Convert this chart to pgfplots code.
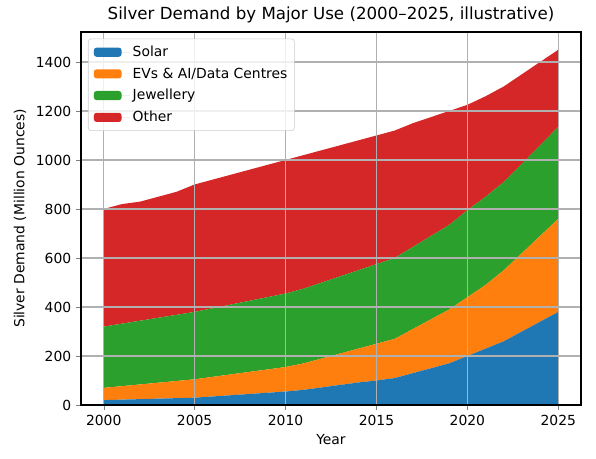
\documentclass[border=0pt]{standalone}
\usepackage{pgfplots}
\pgfplotsset{compat=1.18}
\usepackage{pgfplotstable}
\usepackage{fontspec}
\setmainfont{DejaVu Sans}
\definecolor{tabblue}{HTML}{1F77B4}
\definecolor{taborange}{HTML}{FF7F0E}
\definecolor{tabgreen}{HTML}{2CA02C}
\definecolor{tabred}{HTML}{D62728}
\pgfplotstableread{
year solar ev jew other
2000 20 50 250 480
2001 22 55 255 488
2002 24 60 260 486
2003 26 65 265 494
2004 28 70 270 502
2005 30 75 275 520
2006 35 80 280 525
2007 40 85 285 530
2008 45 90 290 535
2009 50 95 295 540
2010 55 100 300 545
2011 62 108 305 545
2012 72 118 310 540
2013 82 128 315 535
2014 92 138 320 530
2015 100 150 325 525
2016 110 160 330 520
2017 130 180 335 505
2018 150 200 340 485
2019 170 220 345 465
2020 200 240 355 430
2021 230 260 360 410
2022 260 290 360 390
2023 300 320 365 365
2024 340 350 370 340
2025 380 380 375 315
}\datatable
\begin{document}
\begin{tikzpicture}
\begin{axis}[
  scale only axis,
  width=360pt, height=268.6pt,
  xmin=1998.75, xmax=2026.25,
  ymin=0, ymax=1522.5,
  xtick={2000,2005,2010,2015,2020,2025},
  ytick={0,200,400,600,800,1000,1200,1400},
  /pgf/number format/1000 sep={},
  /pgf/number format/assume math mode=true,
  tick label style={font=\fontsize{10}{12}\selectfont},
  label style={font=\fontsize{10}{12}\selectfont},
  title style={overlay, font=\fontsize{12}{14}\selectfont, at={(0.5,1)}, anchor=base, yshift=2.8pt},
  title={Silver Demand by Major Use (2000–2025, illustrative)},
  xlabel={Year}, ylabel={Silver Demand (Million Ounces)},
  tick align=outside, major tick length=3.5pt,
  xtick pos=bottom, ytick pos=left,
  grid=major,
  grid style={color=black!31, line width=0.8pt},
  axis line style={line width=0.8pt},
  axis on top,
  stack plots=y,
  area style,
  legend style={at={(0.014,0.982)}, anchor=north west, draw=black!20, rounded corners=2pt,
    fill=white, fill opacity=0.8, text opacity=1, font=\fontsize{10}{12}\selectfont,
    row sep=2.6pt, inner xsep=3pt, inner ysep=3pt},
  legend cell align=left,
  legend image code/.code={\path (0pt,0pt) -- (27pt,0pt);
     \fill[#1, fill opacity=1] (1pt,-3.3pt) rectangle (21pt,3.3pt);},
]
\addplot[fill=tabblue, draw=none] table[x=year,y=solar]{\datatable} \closedcycle;
\addlegendentry{Solar}
\addplot[fill=taborange, draw=none] table[x=year,y=ev]{\datatable} \closedcycle;
\addlegendentry{EVs \& AI/Data Centres}
\addplot[fill=tabgreen, draw=none] table[x=year,y=jew]{\datatable} \closedcycle;
\addlegendentry{Jewellery}
\addplot[fill=tabred, draw=none] table[x=year,y=other]{\datatable} \closedcycle;
\addlegendentry{Other}
\path (rel axis cs:0,0) ++(-58.3pt,-38.2pt) coordinate (bl);
\path (rel axis cs:1,1) ++(10.8pt,23pt) coordinate (tr);
\end{axis}
\path (bl) rectangle (tr);
\end{tikzpicture}
\end{document}
